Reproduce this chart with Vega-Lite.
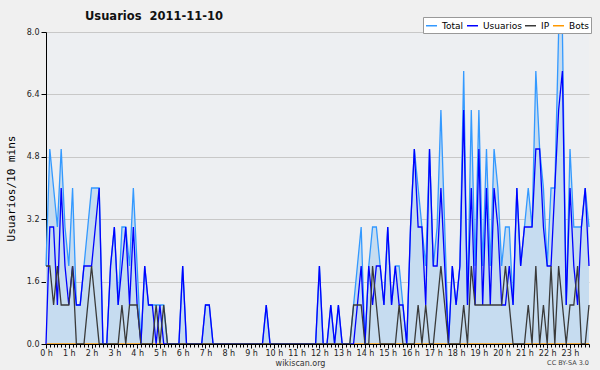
{
"$schema": "https://vega.github.io/schema/vega-lite/v6.json",
"width": 543, "height": 312,
"autosize": {"type": "none"},
"padding": {"left": 46, "top": 32, "right": 11, "bottom": 26},
"background": "#f0f0f0",
"config": {"view": {"fill": "#edeff2", "stroke": null}, "font": "DejaVu Sans"},
"title": {"text": "Usuarios\u00a0\u00a02011-11-10", "anchor": "start", "frame": "group", "dx": 39, "dy": 12, "offset": 6, "font": "DejaVu Sans", "fontSize": 11.5, "fontWeight": "bold", "color": "#111111"},
"resolve": {"axis": {"x": "independent"}},
"data": {"values": [
{"min":0,"Total":2,"Usuarios":0,"IP":2,"Bots":0},
{"min":10,"Total":5,"Usuarios":3,"IP":2,"Bots":0},
{"min":20,"Total":4,"Usuarios":3,"IP":1,"Bots":0},
{"min":30,"Total":3,"Usuarios":1,"IP":2,"Bots":0},
{"min":40,"Total":5,"Usuarios":4,"IP":1,"Bots":0},
{"min":50,"Total":3,"Usuarios":2,"IP":1,"Bots":0},
{"min":60,"Total":2,"Usuarios":1,"IP":1,"Bots":0},
{"min":70,"Total":4,"Usuarios":2,"IP":2,"Bots":0},
{"min":80,"Total":1,"Usuarios":1,"IP":0,"Bots":0},
{"min":90,"Total":1,"Usuarios":1,"IP":0,"Bots":0},
{"min":100,"Total":2,"Usuarios":2,"IP":0,"Bots":0},
{"min":110,"Total":3,"Usuarios":2,"IP":1,"Bots":0},
{"min":120,"Total":4,"Usuarios":2,"IP":2,"Bots":0},
{"min":130,"Total":4,"Usuarios":3,"IP":1,"Bots":0},
{"min":140,"Total":4,"Usuarios":4,"IP":0,"Bots":0},
{"min":150,"Total":0,"Usuarios":0,"IP":0,"Bots":0},
{"min":160,"Total":0,"Usuarios":0,"IP":0,"Bots":0},
{"min":170,"Total":2,"Usuarios":2,"IP":0,"Bots":0},
{"min":180,"Total":3,"Usuarios":3,"IP":0,"Bots":0},
{"min":190,"Total":1,"Usuarios":1,"IP":0,"Bots":0},
{"min":200,"Total":3,"Usuarios":2,"IP":1,"Bots":0},
{"min":210,"Total":3,"Usuarios":3,"IP":0,"Bots":0},
{"min":220,"Total":2,"Usuarios":1,"IP":1,"Bots":0},
{"min":230,"Total":4,"Usuarios":3,"IP":1,"Bots":0},
{"min":240,"Total":2,"Usuarios":1,"IP":1,"Bots":0},
{"min":250,"Total":0,"Usuarios":0,"IP":0,"Bots":0},
{"min":260,"Total":2,"Usuarios":2,"IP":0,"Bots":0},
{"min":270,"Total":1,"Usuarios":1,"IP":0,"Bots":0},
{"min":280,"Total":1,"Usuarios":1,"IP":0,"Bots":0},
{"min":290,"Total":1,"Usuarios":0,"IP":1,"Bots":0},
{"min":300,"Total":1,"Usuarios":1,"IP":0,"Bots":0},
{"min":310,"Total":1,"Usuarios":0,"IP":1,"Bots":0},
{"min":320,"Total":0,"Usuarios":0,"IP":0,"Bots":0},
{"min":330,"Total":0,"Usuarios":0,"IP":0,"Bots":0},
{"min":340,"Total":0,"Usuarios":0,"IP":0,"Bots":0},
{"min":350,"Total":0,"Usuarios":0,"IP":0,"Bots":0},
{"min":360,"Total":2,"Usuarios":2,"IP":0,"Bots":0},
{"min":370,"Total":0,"Usuarios":0,"IP":0,"Bots":0},
{"min":380,"Total":0,"Usuarios":0,"IP":0,"Bots":0},
{"min":390,"Total":0,"Usuarios":0,"IP":0,"Bots":0},
{"min":400,"Total":0,"Usuarios":0,"IP":0,"Bots":0},
{"min":410,"Total":0,"Usuarios":0,"IP":0,"Bots":0},
{"min":420,"Total":1,"Usuarios":1,"IP":0,"Bots":0},
{"min":430,"Total":1,"Usuarios":1,"IP":0,"Bots":0},
{"min":440,"Total":0,"Usuarios":0,"IP":0,"Bots":0},
{"min":450,"Total":0,"Usuarios":0,"IP":0,"Bots":0},
{"min":460,"Total":0,"Usuarios":0,"IP":0,"Bots":0},
{"min":470,"Total":0,"Usuarios":0,"IP":0,"Bots":0},
{"min":480,"Total":0,"Usuarios":0,"IP":0,"Bots":0},
{"min":490,"Total":0,"Usuarios":0,"IP":0,"Bots":0},
{"min":500,"Total":0,"Usuarios":0,"IP":0,"Bots":0},
{"min":510,"Total":0,"Usuarios":0,"IP":0,"Bots":0},
{"min":520,"Total":0,"Usuarios":0,"IP":0,"Bots":0},
{"min":530,"Total":0,"Usuarios":0,"IP":0,"Bots":0},
{"min":540,"Total":0,"Usuarios":0,"IP":0,"Bots":0},
{"min":550,"Total":0,"Usuarios":0,"IP":0,"Bots":0},
{"min":560,"Total":0,"Usuarios":0,"IP":0,"Bots":0},
{"min":570,"Total":0,"Usuarios":0,"IP":0,"Bots":0},
{"min":580,"Total":1,"Usuarios":1,"IP":0,"Bots":0},
{"min":590,"Total":0,"Usuarios":0,"IP":0,"Bots":0},
{"min":600,"Total":0,"Usuarios":0,"IP":0,"Bots":0},
{"min":610,"Total":0,"Usuarios":0,"IP":0,"Bots":0},
{"min":620,"Total":0,"Usuarios":0,"IP":0,"Bots":0},
{"min":630,"Total":0,"Usuarios":0,"IP":0,"Bots":0},
{"min":640,"Total":0,"Usuarios":0,"IP":0,"Bots":0},
{"min":650,"Total":0,"Usuarios":0,"IP":0,"Bots":0},
{"min":660,"Total":0,"Usuarios":0,"IP":0,"Bots":0},
{"min":670,"Total":0,"Usuarios":0,"IP":0,"Bots":0},
{"min":680,"Total":0,"Usuarios":0,"IP":0,"Bots":0},
{"min":690,"Total":0,"Usuarios":0,"IP":0,"Bots":0},
{"min":700,"Total":0,"Usuarios":0,"IP":0,"Bots":0},
{"min":710,"Total":0,"Usuarios":0,"IP":0,"Bots":0},
{"min":720,"Total":2,"Usuarios":2,"IP":0,"Bots":0},
{"min":730,"Total":0,"Usuarios":0,"IP":0,"Bots":0},
{"min":740,"Total":0,"Usuarios":0,"IP":0,"Bots":0},
{"min":750,"Total":1,"Usuarios":1,"IP":0,"Bots":0},
{"min":760,"Total":0,"Usuarios":0,"IP":0,"Bots":0},
{"min":770,"Total":1,"Usuarios":1,"IP":0,"Bots":0},
{"min":780,"Total":0,"Usuarios":0,"IP":0,"Bots":0},
{"min":790,"Total":0,"Usuarios":0,"IP":0,"Bots":0},
{"min":800,"Total":0,"Usuarios":0,"IP":0,"Bots":0},
{"min":810,"Total":1,"Usuarios":0,"IP":1,"Bots":0},
{"min":820,"Total":2,"Usuarios":1,"IP":1,"Bots":0},
{"min":830,"Total":3,"Usuarios":2,"IP":1,"Bots":0},
{"min":840,"Total":0,"Usuarios":0,"IP":0,"Bots":0},
{"min":850,"Total":2,"Usuarios":2,"IP":0,"Bots":0},
{"min":860,"Total":3,"Usuarios":1,"IP":2,"Bots":0},
{"min":870,"Total":3,"Usuarios":2,"IP":1,"Bots":0},
{"min":880,"Total":2,"Usuarios":2,"IP":0,"Bots":0},
{"min":890,"Total":1,"Usuarios":1,"IP":0,"Bots":0},
{"min":900,"Total":3,"Usuarios":3,"IP":0,"Bots":0},
{"min":910,"Total":1,"Usuarios":1,"IP":0,"Bots":0},
{"min":920,"Total":2,"Usuarios":2,"IP":0,"Bots":0},
{"min":930,"Total":2,"Usuarios":1,"IP":1,"Bots":0},
{"min":940,"Total":1,"Usuarios":1,"IP":0,"Bots":0},
{"min":950,"Total":0,"Usuarios":0,"IP":0,"Bots":0},
{"min":960,"Total":3,"Usuarios":3,"IP":0,"Bots":0},
{"min":970,"Total":5,"Usuarios":5,"IP":0,"Bots":0},
{"min":980,"Total":4,"Usuarios":3,"IP":1,"Bots":0},
{"min":990,"Total":3,"Usuarios":3,"IP":0,"Bots":0},
{"min":1000,"Total":2,"Usuarios":1,"IP":1,"Bots":0},
{"min":1010,"Total":5,"Usuarios":5,"IP":0,"Bots":0},
{"min":1020,"Total":2,"Usuarios":2,"IP":0,"Bots":0},
{"min":1030,"Total":3,"Usuarios":2,"IP":1,"Bots":0},
{"min":1040,"Total":6,"Usuarios":4,"IP":2,"Bots":0},
{"min":1050,"Total":3,"Usuarios":2,"IP":1,"Bots":0},
{"min":1060,"Total":0,"Usuarios":0,"IP":0,"Bots":0},
{"min":1070,"Total":2,"Usuarios":2,"IP":0,"Bots":0},
{"min":1080,"Total":1,"Usuarios":1,"IP":0,"Bots":0},
{"min":1090,"Total":2,"Usuarios":2,"IP":0,"Bots":0},
{"min":1100,"Total":7,"Usuarios":6,"IP":1,"Bots":0},
{"min":1110,"Total":1,"Usuarios":1,"IP":0,"Bots":0},
{"min":1120,"Total":6,"Usuarios":4,"IP":2,"Bots":0},
{"min":1130,"Total":2,"Usuarios":1,"IP":1,"Bots":0},
{"min":1140,"Total":6,"Usuarios":5,"IP":1,"Bots":0},
{"min":1150,"Total":2,"Usuarios":1,"IP":1,"Bots":0},
{"min":1160,"Total":5,"Usuarios":4,"IP":1,"Bots":0},
{"min":1170,"Total":2,"Usuarios":1,"IP":1,"Bots":0},
{"min":1180,"Total":5,"Usuarios":4,"IP":1,"Bots":0},
{"min":1190,"Total":4,"Usuarios":3,"IP":1,"Bots":0},
{"min":1200,"Total":2,"Usuarios":1,"IP":1,"Bots":0},
{"min":1210,"Total":3,"Usuarios":1,"IP":2,"Bots":0},
{"min":1220,"Total":3,"Usuarios":2,"IP":1,"Bots":0},
{"min":1230,"Total":1,"Usuarios":1,"IP":0,"Bots":0},
{"min":1240,"Total":4,"Usuarios":4,"IP":0,"Bots":0},
{"min":1250,"Total":2,"Usuarios":2,"IP":0,"Bots":0},
{"min":1260,"Total":3,"Usuarios":3,"IP":0,"Bots":0},
{"min":1270,"Total":4,"Usuarios":3,"IP":1,"Bots":0},
{"min":1280,"Total":3,"Usuarios":3,"IP":0,"Bots":0},
{"min":1290,"Total":7,"Usuarios":5,"IP":2,"Bots":0},
{"min":1300,"Total":5,"Usuarios":5,"IP":0,"Bots":0},
{"min":1310,"Total":4,"Usuarios":3,"IP":1,"Bots":0},
{"min":1320,"Total":2,"Usuarios":2,"IP":0,"Bots":0},
{"min":1330,"Total":4,"Usuarios":2,"IP":2,"Bots":0},
{"min":1340,"Total":4,"Usuarios":4,"IP":0,"Bots":0},
{"min":1350,"Total":8,"Usuarios":6,"IP":2,"Bots":0},
{"min":1360,"Total":8,"Usuarios":7,"IP":1,"Bots":0},
{"min":1370,"Total":1,"Usuarios":1,"IP":0,"Bots":0},
{"min":1380,"Total":5,"Usuarios":4,"IP":1,"Bots":0},
{"min":1390,"Total":3,"Usuarios":2,"IP":1,"Bots":0},
{"min":1400,"Total":3,"Usuarios":1,"IP":2,"Bots":0},
{"min":1410,"Total":3,"Usuarios":3,"IP":0,"Bots":0},
{"min":1420,"Total":4,"Usuarios":4,"IP":0,"Bots":0},
{"min":1430,"Total":3,"Usuarios":2,"IP":1,"Bots":0}
]},
"layer": [
{
"mark": {"type": "area", "color": "#c6dcf0", "opacity": 1},
"encoding": {
"x": {"field": "min", "type": "quantitative",
 "scale": {"domain": [0, 1430], "nice": false, "zero": false},
 "axis": {"orient": "bottom", "title": "wikiscan.org", "titleFont": "DejaVu Sans", "titleFontSize": 8, "titleFontWeight": "normal", "titleColor": "#333333", "titlePadding": 2, "titleX": 254,
  "values": [0,60,120,180,240,300,360,420,480,540,600,660,720,780,840,900,960,1020,1080,1140,1200,1260,1320,1380],
  "labelExpr": "(datum.value / 60) + ' h'",
  "tickSize": 4,
  "labelFont": "DejaVu Sans", "labelFontSize": 8, "labelColor": "#222222", "labelPadding": 1,
  "labelOverlap": false, "labelFlush": false, "labelBound": false,
  "domainColor": "#000000", "tickColor": "#000000", "grid": false, "zindex": 1}},
"y": {"field": "Total", "type": "quantitative",
 "scale": {"domain": [0, 8], "nice": false},
 "axis": {"title": "Usuarios/10 mins", "titleFont": "DejaVu Sans Mono", "titleFontSize": 11, "titleFontWeight": "normal", "titleColor": "#000000", "titlePadding": 10,
  "values": [0,0.4,0.8,1.2,1.6,2,2.4,2.8,3.2,3.6,4,4.4,4.8,5.2,5.6,6,6.4,6.8,7.2,7.6,8],
  "labelExpr": "indexof([0,1.6,3.2,4.8,6.4,8], datum.value) >= 0 ? format(datum.value, '.1f') : ''",
  "tickSize": {"condition": {"test": "indexof([0,1.6,3.2,4.8,6.4,8], datum.value) >= 0", "value": 5}, "value": 3},
  "gridOpacity": {"condition": {"test": "indexof([1.6,3.2,4.8,6.4,8], datum.value) >= 0", "value": 1}, "value": 0},
  "gridColor": "#c8c8c8", "grid": true,
  "labelFont": "DejaVu Sans", "labelFontSize": 8, "labelColor": "#222222", "labelPadding": 2,
  "labelOverlap": false, "labelFlush": false, "labelBound": false,
  "domainColor": "#000000", "tickColor": "#000000"}}
}
},
{
"transform": [{"fold": ["Bots", "Total", "Usuarios", "IP"], "as": ["serie", "valor"]}],
"mark": {"type": "line", "strokeWidth": 1.3},
"encoding": {
"x": {"field": "min", "type": "quantitative",
 "axis": {"orient": "bottom", "title": null, "labels": false, "domain": false, "grid": false, "tickSize": 3, "tickColor": "#000000", "zindex": 1,
  "values": [0,10,20,30,40,50,60,70,80,90,100,110,120,130,140,150,160,170,180,190,200,210,220,230,240,250,260,270,280,290,300,310,320,330,340,350,360,370,380,390,400,410,420,430,440,450,460,470,480,490,500,510,520,530,540,550,560,570,580,590,600,610,620,630,640,650,660,670,680,690,700,710,720,730,740,750,760,770,780,790,800,810,820,830,840,850,860,870,880,890,900,910,920,930,940,950,960,970,980,990,1000,1010,1020,1030,1040,1050,1060,1070,1080,1090,1100,1110,1120,1130,1140,1150,1160,1170,1180,1190,1200,1210,1220,1230,1240,1250,1260,1270,1280,1290,1300,1310,1320,1330,1340,1350,1360,1370,1380,1390,1400,1410,1420,1430]}},
"y": {"field": "valor", "type": "quantitative", "title": "Usuarios/10 mins"},
"color": {"field": "serie", "type": "nominal",
 "scale": {"domain": ["Total", "Usuarios", "IP", "Bots"], "range": ["#3399ff", "#0000ff", "#3a3a3a", "#ff9900"]},
 "legend": {"orient": "none", "legendX": 377, "legendY": -15, "direction": "horizontal", "title": null,
  "symbolType": "stroke", "symbolSize": 121, "symbolStrokeWidth": 1.5,
  "labelFont": "DejaVu Sans", "labelFontSize": 9, "labelColor": "#000000", "labelOffset": 4,
  "columnPadding": 0, "padding": 2, "fillColor": "#ffffff", "strokeColor": "#999999"}}
}
},
{
"data": {"values": [{"nota": "CC BY-SA 3.0"}]},
"mark": {"type": "text", "align": "right", "baseline": "alphabetic", "font": "DejaVu Sans", "fontSize": 6.5, "color": "#444444"},
"encoding": {
"x": {"datum": 1430, "type": "quantitative", "axis": null},
"y": {"datum": -0.54, "type": "quantitative", "title": "Usuarios/10 mins"},
"text": {"field": "nota"}
}
}
]
}
